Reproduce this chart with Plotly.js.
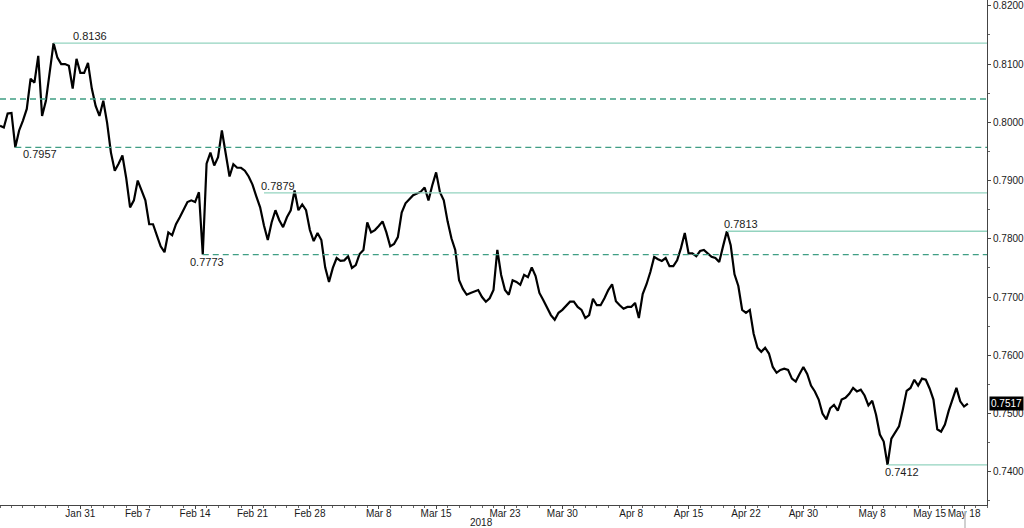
<!DOCTYPE html>
<html>
<head>
<meta charset="utf-8">
<script src="https://cdn.plot.ly/plotly-3.0.1.min.js"></script>
<style>
  html, body { margin: 0; padding: 0; background: #ffffff; }
  #chart { width: 1024px; height: 528px; }
</style>
</head>
<body>
<div id="chart"></div>
<script>
// ---- Data ----
// Series start, sampled every 8 trading hours (weekends skipped)
const seriesStart = '2018-01-22 00:00';
const stepHours = 8;

const closeJanFeb = [
  0.7994, 0.7991, 0.8015, 0.8016, 0.7957, 0.7986, 0.8003, 0.8023, 0.8075, 0.8068,
  0.8114, 0.8011, 0.8037, 0.8088, 0.8136, 0.8111, 0.8100, 0.8100, 0.8097, 0.8058,
  0.8109, 0.8085, 0.8085, 0.8102, 0.8058, 0.8028, 0.8011, 0.8037, 0.7999, 0.7948,
  0.7917, 0.7929, 0.7943, 0.7904, 0.7854, 0.7866, 0.7900, 0.7883, 0.7866, 0.7825,
  0.7825, 0.7806, 0.7787, 0.7777, 0.7811, 0.7806, 0.7825, 0.7837, 0.7849, 0.7863,
  0.7866, 0.7863, 0.7880, 0.7773, 0.7929, 0.7948, 0.7926, 0.7940, 0.7986, 0.7948,
  0.7907, 0.7928, 0.7922, 0.7922, 0.7917, 0.7907, 0.7893, 0.7873, 0.7854, 0.7823,
  0.7798, 0.7828, 0.7849, 0.7832, 0.7820, 0.7837, 0.7849, 0.7883, 0.7849, 0.7859,
  0.7849
];
const closeMar = [
  0.7815, 0.7796, 0.7810, 0.7798, 0.7751, 0.7726, 0.7750, 0.7767, 0.7762,
  0.7763, 0.7770, 0.7750, 0.7755, 0.7774, 0.7781, 0.7828, 0.7811, 0.7815, 0.7822,
  0.7830, 0.7811, 0.7787, 0.7791, 0.7803, 0.7845, 0.7861, 0.7868, 0.7875, 0.7878,
  0.7881, 0.7888, 0.7866, 0.7892, 0.7914, 0.7880, 0.7866, 0.7830, 0.7801, 0.7781,
  0.7729, 0.7714, 0.7704, 0.7707, 0.7709, 0.7712, 0.7700, 0.7692, 0.7698, 0.7712,
  0.7781, 0.7738, 0.7712, 0.7704, 0.7729, 0.7726, 0.7721, 0.7738, 0.7734, 0.7751,
  0.7736, 0.7707, 0.7695, 0.7683, 0.7669, 0.7661, 0.7673, 0.7678, 0.7685, 0.7692
];
const closeApr = [
  0.7692, 0.7683, 0.7678, 0.7664, 0.7669, 0.7697, 0.7686, 0.7686, 0.7698, 0.7712,
  0.7722, 0.7693, 0.7686, 0.7680, 0.7683, 0.7683, 0.7690, 0.7664, 0.7705, 0.7722,
  0.7743, 0.7769, 0.7765, 0.7762, 0.7767, 0.7753, 0.7753, 0.7763, 0.7784, 0.7810,
  0.7775, 0.7775, 0.7770, 0.7779, 0.7781, 0.7775, 0.7769, 0.7767, 0.7760, 0.7787,
  0.7813, 0.7789, 0.7739, 0.7719, 0.7678, 0.7673, 0.7678, 0.7637, 0.7613, 0.7606,
  0.7613, 0.7603, 0.7580, 0.7570, 0.7575, 0.7577, 0.7575, 0.7560, 0.7555, 0.7568
];
const closeMay = [
  0.7580, 0.7568, 0.7548, 0.7538, 0.7524, 0.7500, 0.7490, 0.7509, 0.7515, 0.7505,
  0.7524, 0.7527, 0.7534, 0.7544, 0.7538, 0.7541, 0.7531, 0.7514, 0.7522, 0.7498,
  0.7464, 0.7452, 0.7412, 0.7457, 0.7468, 0.7478, 0.7507, 0.7539, 0.7544, 0.7558,
  0.7548, 0.7560, 0.7558, 0.7543, 0.7524, 0.7473, 0.7469, 0.7481, 0.7505, 0.7524,
  0.7544, 0.7521, 0.7512, 0.7517
];

// Resistance / high levels (solid lines) and support levels (dashed lines)
const highLevels = [0.8136, 0.7879, 0.7813, 0.7412];
const highStarts = ['2018-01-26 16:00', '2018-02-22 00:00', '2018-04-19 08:00', '2018-05-09 08:00'];
const lowLevels  = [0.8040, 0.7957, 0.7773];
const lowStarts  = ['2018-01-22 00:00', '2018-01-23 08:00', '2018-02-14 16:00'];
// Labelled levels
const labelValues = ['0.8136', '0.7957', '0.7879', '0.7773', '0.7813', '0.7412'];
const labelDates  = ['2018-01-26 16:00', '2018-01-23 08:00', '2018-02-22 00:00', '2018-02-14 16:00', '2018-04-19 08:00', '2018-05-09 08:00'];
const labelAbove  = [true, false, true, false, true, false];
const lastPrice = 0.7517;

// X axis ticks
const tickDates  = ['2018-01-31', '2018-02-07', '2018-02-14', '2018-02-21', '2018-02-28', '2018-03-08',
                    '2018-03-15', '2018-03-23', '2018-03-30', '2018-04-09', '2018-04-16', '2018-04-23',
                    '2018-04-30', '2018-05-08', '2018-05-15', '2018-05-18'];
const tickLabels = ['Jan 31', 'Feb 7', 'Feb 14', 'Feb 21', 'Feb 28', 'Mar 8', 'Mar 15', 'Mar 23',
                    'Mar 30', 'Apr 8', 'Apr 15', 'Apr 22', 'Apr 30', 'May 8', 'May 15', 'May 18'];
const xStart = '2018-01-22 00:00';
const xEnd   = '2018-05-22 00:00';

// ---- Build ----
const values = closeJanFeb.concat(closeMar, closeApr, closeMay);

function pad(n) { return (n < 10 ? '0' : '') + n; }
function fmt(d) {
  return d.getUTCFullYear() + '-' + pad(d.getUTCMonth() + 1) + '-' + pad(d.getUTCDate()) +
         ' ' + pad(d.getUTCHours()) + ':' + pad(d.getUTCMinutes());
}
function tradingTimes(start, n, stepH) {
  const out = [];
  let t = new Date(start.replace(' ', 'T') + ':00Z');
  for (let i = 0; i < n; i++) {
    out.push(fmt(t));
    t = new Date(t.getTime() + stepH * 3600000);
    while (t.getUTCDay() === 6 || t.getUTCDay() === 0) {
      t = new Date(t.getTime() + 24 * 3600000);
    }
  }
  return out;
}
const times = tradingTimes(seriesStart, values.length, stepHours);

const solidColor = '#93d3bf';
const dashColor = '#3f9e84';
const textColor = '#1a1a1a';
const fontFam = 'Liberation Sans, Arial, sans-serif';

const shapes = [];
highLevels.forEach((v, i) => {
  shapes.push({type: 'line', xref: 'x', yref: 'y', x0: highStarts[i], x1: xEnd, y0: v, y1: v,
               line: {color: solidColor, width: 1.3}});
});
lowLevels.forEach((v, i) => {
  shapes.push({type: 'line', xref: 'x', yref: 'y', x0: lowStarts[i], x1: xEnd, y0: v, y1: v,
               line: {color: dashColor, width: 1.3, dash: '6px,4px'}});
});
// current-time marker below the axis
shapes.push({type: 'line', xref: 'x', yref: 'paper', x0: '2018-05-18 02:00', x1: '2018-05-18 02:00',
             y0: -0.012, y1: -0.06, line: {color: '#c0c0c0', width: 1.5}});

const xShifts = [17, 6, -5, -15, -5, -5];
const annotations = labelValues.map((txt, i) => ({
  xref: 'x', yref: 'y', x: labelDates[i], y: parseFloat(txt), text: txt, showarrow: false,
  xanchor: 'left', yanchor: 'middle', xshift: xShifts[i], yshift: labelAbove[i] ? 7 : -7,
  font: {family: fontFam, size: 11, color: textColor}
}));
annotations.push({
  xref: 'paper', yref: 'paper', x: 0.4875, y: 0, yshift: -17, text: '2018', showarrow: false,
  xanchor: 'center', yanchor: 'middle', font: {family: fontFam, size: 10, color: textColor}
});
annotations.push({
  xref: 'paper', yref: 'y', x: 1, y: lastPrice, text: lastPrice.toFixed(4), showarrow: false,
  xanchor: 'left', yanchor: 'middle', xshift: 2, bgcolor: '#000000', borderpad: 1,
  font: {family: fontFam, size: 10, color: '#ffffff'}
});

const trace = {
  x: times, y: values, type: 'scatter', mode: 'lines',
  line: {color: '#000000', width: 2.2}, hoverinfo: 'skip'
};

const layout = {
  width: 1024, height: 528,
  margin: {l: 0, r: 37, t: 0, b: 23},
  paper_bgcolor: '#ffffff', plot_bgcolor: '#ffffff',
  showlegend: false,
  font: {family: fontFam, size: 10, color: textColor},
  xaxis: {
    type: 'date', range: [xStart, xEnd],
    rangebreaks: [{bounds: ['sat', 'mon']}],
    tickmode: 'array', tickvals: tickDates, ticktext: tickLabels, tickangle: 0,
    ticks: 'outside', ticklen: 3, tickcolor: '#444', tickwidth: 1, ticklabelstandoff: -4,
    showline: true, linecolor: '#444', linewidth: 1, showgrid: false, zeroline: false,
    tickfont: {family: fontFam, size: 10, color: textColor},
    minor: {ticks: 'outside', ticklen: 2, tickcolor: '#666', dtick: 86400000, showgrid: false}
  },
  yaxis: {
    side: 'right', range: [0.7343, 0.8210],
    tickmode: 'linear', tick0: 0.74, dtick: 0.01, tickformat: '.4f',
    ticks: 'outside', ticklen: 3, tickcolor: '#444', tickwidth: 1,
    showline: true, linecolor: '#444', linewidth: 1, showgrid: false, zeroline: false,
    tickfont: {family: fontFam, size: 10, color: textColor},
    minor: {ticks: 'outside', ticklen: 2, tickcolor: '#666', dtick: 0.005, showgrid: false}
  },
  shapes: shapes,
  annotations: annotations
};

Plotly.newPlot('chart', [trace], layout, {displayModeBar: false, staticPlot: true});
</script>
</body>
</html>
